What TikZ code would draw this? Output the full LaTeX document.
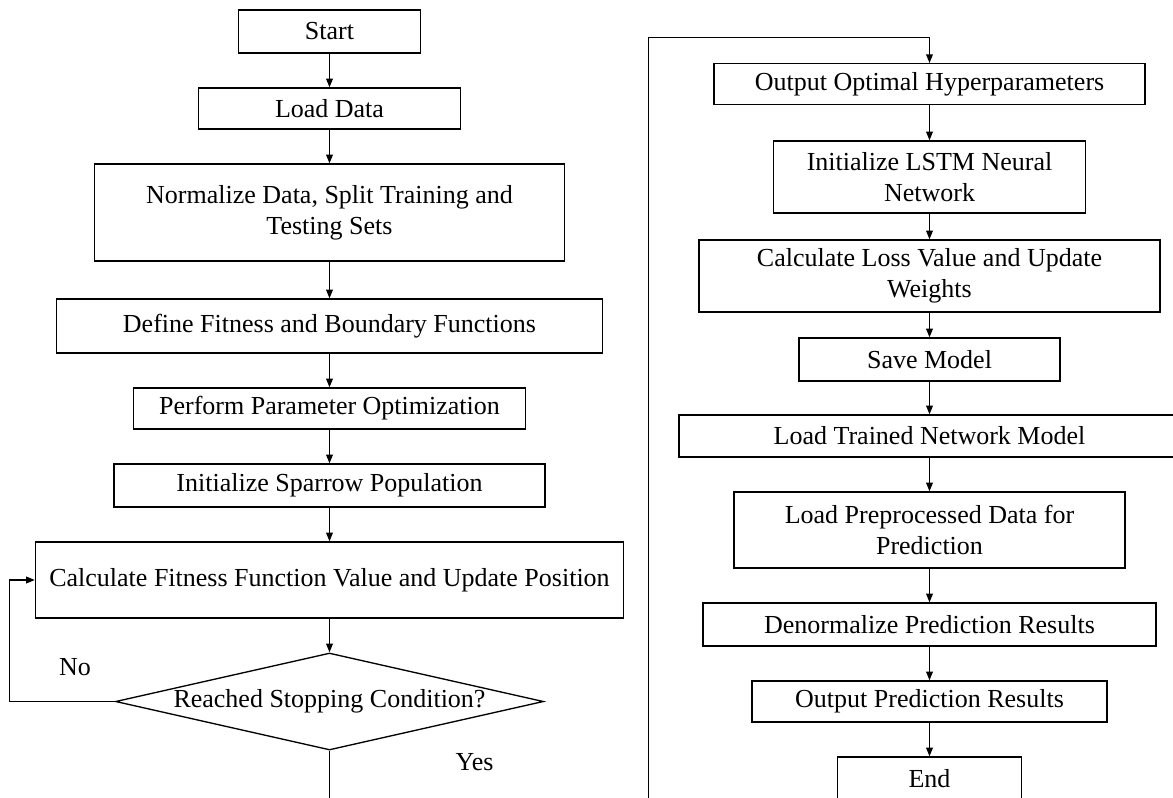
\documentclass[tikz,border=0pt]{standalone}
\usepackage{fontspec}
\setmainfont{Liberation Serif}
\usetikzlibrary{arrows.meta,shapes.geometric}
\begin{document}
\begin{tikzpicture}[x=0.75pt,y=-0.75pt,
  every node/.style={font=\fontsize{19.5}{23.5}\selectfont},
  box/.style={draw, line width=1pt, rectangle, inner sep=0pt, align=center},
  decision/.style={draw, line width=1pt, diamond, inner sep=0pt},
  arr/.style={line width=1pt, -{Triangle[length=6.5pt,width=5pt]}},
  ln/.style={line width=1pt}]
\useasboundingbox (0,0) rectangle (1173,797);
% left column
\node[box, minimum width=182*0.75pt, minimum height=43*0.75pt] (start) at (329.5,31.5) {Start};
\node[box, minimum width=262*0.75pt, minimum height=41*0.75pt] (load) at (329.5,108.5) {Load Data};
\node[box, minimum width=469.5*0.75pt, minimum height=97*0.75pt] (norm) at (329.5,212.5) {Normalize Data, Split Training and\\Testing Sets};
\node[box, minimum width=546*0.75pt, minimum height=54*0.75pt] (define) at (329.5,326) {Define Fitness and Boundary Functions};
\node[box, minimum width=391.5*0.75pt, minimum height=41*0.75pt] (perform) at (329.5,408.5) {Perform Parameter Optimization};
\node[box, minimum width=431*0.75pt, minimum height=43*0.75pt] (sparrow) at (329.5,485.5) {Initialize Sparrow Population};
\node[box, minimum width=588*0.75pt, minimum height=76*0.75pt] (calc) at (329.5,580) {Calculate Fitness Function Value and Update Position};
\node[decision, minimum width=428*0.75pt, minimum height=97*0.75pt,
  label={center:Reached Stopping Condition?}] (dec) at (329.5,701.5) {};
\node (no) at (75,667) {No};
\node (yes) at (474.5,762) {Yes};
\coordinate (loopx) at (9.6,701.5);
\coordinate (leftbottom) at (329.5,800);
% right column
\node[box, minimum width=431*0.75pt, minimum height=41*0.75pt] (opt) at (929.5,84.2) {Output Optimal Hyperparameters};
\node[box, minimum width=312*0.75pt, minimum height=72*0.75pt] (lstm) at (929.5,177) {Initialize LSTM Neural\\Network};
\node[box, minimum width=461*0.75pt, minimum height=72*0.75pt] (loss) at (929.5,276) {Calculate Loss Value and Update\\Weights};
\node[box, minimum width=261*0.75pt, minimum height=43*0.75pt] (save) at (929.5,359.5) {Save Model};
\node[box, minimum width=501*0.75pt, minimum height=42*0.75pt] (trained) at (929.5,436) {Load Trained Network Model};
\node[box, minimum width=391*0.75pt, minimum height=76*0.75pt] (prep) at (929.5,530) {Load Preprocessed Data for\\Prediction};
\node[box, minimum width=453*0.75pt, minimum height=43*0.75pt] (denorm) at (929.5,624.5) {Denormalize Prediction Results};
\node[box, minimum width=355*0.75pt, minimum height=41*0.75pt] (outpred) at (929.5,701.5) {Output Prediction Results};
\node[box, minimum width=184*0.75pt, minimum height=43*0.75pt] (end) at (929.5,778.5) {End};
\coordinate (framebottom) at (648.5,800);
\coordinate (frametop) at (648.5,37.3);
% connectors left
\draw[arr] (start) -- (load);
\draw[arr] (load) -- (norm);
\draw[arr] (norm) -- (define);
\draw[arr] (define) -- (perform);
\draw[arr] (perform) -- (sparrow);
\draw[arr] (sparrow) -- (calc);
\draw[arr] (calc) -- (dec);
\draw[arr] (dec.west) -- (loopx) |- (calc.west);
\draw[ln] (dec.south) -- (leftbottom);
% connectors right
\draw[arr] (framebottom) -- (frametop) -| (opt.north);
\draw[arr] (opt) -- (lstm);
\draw[arr] (lstm) -- (loss);
\draw[arr] (loss) -- (save);
\draw[arr] (save) -- (trained);
\draw[arr] (trained) -- (prep);
\draw[arr] (prep) -- (denorm);
\draw[arr] (denorm) -- (outpred);
\draw[arr] (outpred) -- (end);
\end{tikzpicture}
\end{document}
